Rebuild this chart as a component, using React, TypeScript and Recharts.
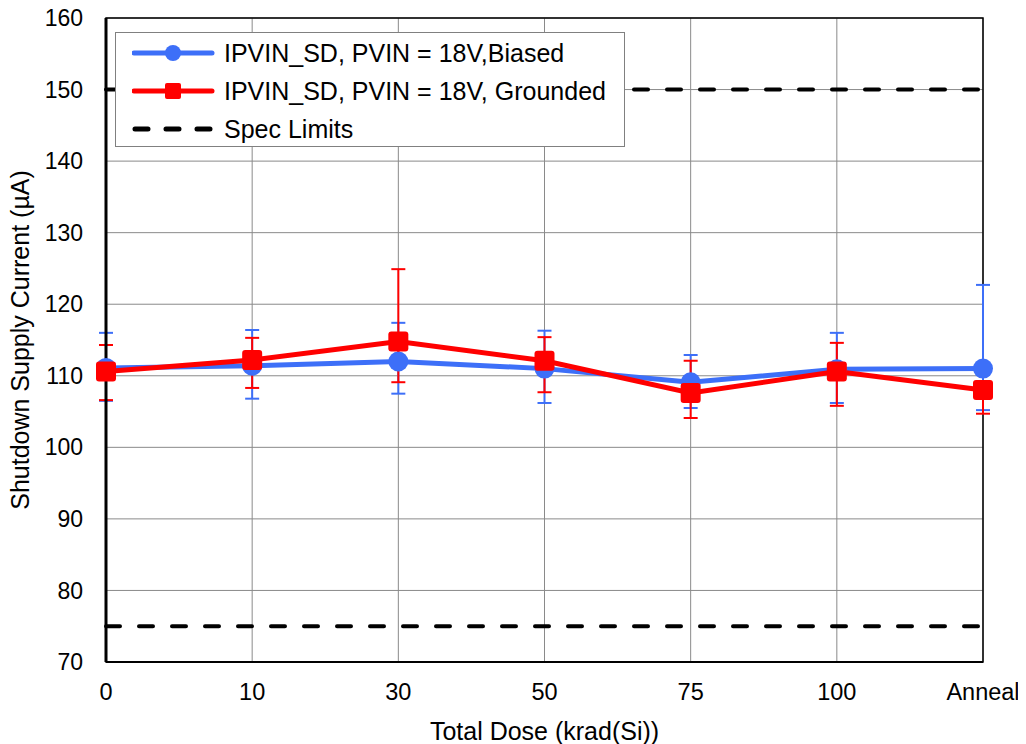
import { LineChart, Line, XAxis, YAxis, CartesianGrid, ErrorBar, ReferenceArea } from "recharts";

const doses = ["0", "10", "30", "50", "75", "100", "Anneal"];

// IPVIN_SD, PVIN = 18V, biased
const biased = [111.1, 111.4, 112.0, 111.0, 109.1, 110.9, 111.0];
const biasedLow = [4.6, 4.6, 4.5, 4.8, 3.6, 4.7, 5.8];
const biasedHigh = [4.9, 5.0, 5.4, 5.3, 3.8, 5.1, 11.7];

// IPVIN_SD, PVIN = 18V, grounded
const grounded = [110.6, 112.2, 114.8, 112.1, 107.6, 110.6, 108.0];
const groundedLow = [4.0, 3.9, 5.7, 4.4, 3.5, 4.8, 3.3];
const groundedHigh = [3.7, 3.1, 10.1, 3.3, 4.5, 4.0, 0.8];

const specUpper = [150, 150, 150, 150, 150, 150, 150];
const specLower = [75, 75, 75, 75, 75, 75, 75];

const yTicks = [70, 80, 90, 100, 110, 120, 130, 140, 150, 160];

const BLUE = "#3d6ff8";
const RED = "#ff0000";

const data = doses.map((dose, i) => ({
  dose,
  biased: biased[i],
  biasedErr: [biasedLow[i], biasedHigh[i]],
  grounded: grounded[i],
  groundedErr: [groundedLow[i], groundedHigh[i]],
  specUpper: specUpper[i],
  specLower: specLower[i],
}));

const SquareDot = (props: any) => {
  const { cx, cy, index } = props;
  if (cx == null || cy == null) return null;
  return <rect key={`sq-${index}`} x={cx - 10} y={cy - 10} width={20} height={20} rx={3} fill={RED} />;
};

// legend drawn as an overlay box so it doesn't eat plot space
const LegendBox = () => {
  const rows = [
    { label: "IPVIN_SD, PVIN = 18V,Biased", kind: "circle" },
    { label: "IPVIN_SD, PVIN = 18V, Grounded", kind: "square" },
    { label: "Spec Limits", kind: "dash" },
  ];
  return (
    <div
      style={{
        position: "absolute",
        left: 115,
        top: 32,
        width: 510,
        height: 115,
        border: "1px solid #808080",
        background: "#fff",
        boxSizing: "border-box",
        paddingTop: 1,
      }}
    >
      {rows.map((r) => (
        <div key={r.label} style={{ display: "flex", alignItems: "center", height: 38 }}>
          <svg width={84} height={20} style={{ marginLeft: 16, marginRight: 8 }}>
            {r.kind === "dash" ? (
              <line x1={3} y1={10} x2={80} y2={10} stroke="#000" strokeWidth={5} strokeDasharray="13 18" strokeLinecap="round" />
            ) : (
              <line x1={2} y1={10} x2={80} y2={10} stroke={r.kind === "circle" ? BLUE : RED} strokeWidth={5} strokeLinecap="round" />
            )}
            {r.kind === "circle" && <circle cx={41} cy={10} r={8} fill={BLUE} />}
            {r.kind === "square" && <rect x={33} y={2} width={16} height={16} rx={2} fill={RED} />}
          </svg>
          <span style={{ fontSize: 25, color: "#000", lineHeight: 1 }}>{r.label}</span>
        </div>
      ))}
    </div>
  );
};

export default function App() {
  return (
    <div
      style={{
        position: "relative",
        marginLeft: -8,
        marginTop: -8,
        width: 1026,
        height: 744,
        fontFamily: "'Liberation Sans', Arial, sans-serif",
      }}
    >
      <LineChart
        width={1026}
        height={744}
        data={data}
        margin={{ top: 18, right: 43, left: 0, bottom: 4 }}
      >
        <CartesianGrid stroke="#8a8a8a" strokeWidth={1} />
        <ReferenceArea
          x1="0"
          x2="Anneal"
          y1={70}
          y2={160}
          fill="none"
          stroke="#000"
          strokeWidth={1.5}
          ifOverflow="visible"
        />
        <XAxis
          dataKey="dose"
          interval={0}
          height={78}
          tickLine={false}
          tickSize={6}
          tickMargin={15}
          axisLine={{ stroke: "#000", strokeWidth: 2 }}
          tick={{ fill: "#000", fontSize: 23.5 }}
          label={{ value: "Total Dose (krad(Si))", position: "insideBottom", offset: 0, fill: "#000", fontSize: 25 }}
        />
        <YAxis
          type="number"
          domain={[70, 160]}
          ticks={yTicks}
          width={106}
          tickLine={false}
          tickSize={6}
          tickMargin={17}
          axisLine={{ stroke: "#000", strokeWidth: 3 }}
          tick={{ fill: "#000", fontSize: 23 }}
          label={{
            value: "Shutdown Supply Current (µA)",
            angle: -90,
            position: "insideLeft",
            offset: 20,
            fill: "#000",
            fontSize: 25,
            style: { textAnchor: "middle" },
          }}
        />
        <Line
          dataKey="specUpper"
          stroke="#000"
          strokeWidth={4}
          strokeDasharray="14 19"
          strokeLinecap="round"
          dot={false}
          activeDot={false}
          isAnimationActive={false}
        />
        <Line
          dataKey="specLower"
          stroke="#000"
          strokeWidth={4}
          strokeDasharray="14 19"
          strokeLinecap="round"
          dot={false}
          activeDot={false}
          isAnimationActive={false}
        />
        <Line
          dataKey="biased"
          stroke={BLUE}
          strokeWidth={5}
          dot={{ r: 10, fill: BLUE, stroke: BLUE, strokeWidth: 0 }}
          activeDot={false}
          isAnimationActive={false}
        >
          <ErrorBar dataKey="biasedErr" direction="y" width={7} stroke={BLUE} strokeWidth={2} />
        </Line>
        <Line
          dataKey="grounded"
          stroke={RED}
          strokeWidth={5}
          dot={SquareDot}
          activeDot={false}
          isAnimationActive={false}
        >
          <ErrorBar dataKey="groundedErr" direction="y" width={7} stroke={RED} strokeWidth={2} />
        </Line>
      </LineChart>
      <LegendBox />
    </div>
  );
}
